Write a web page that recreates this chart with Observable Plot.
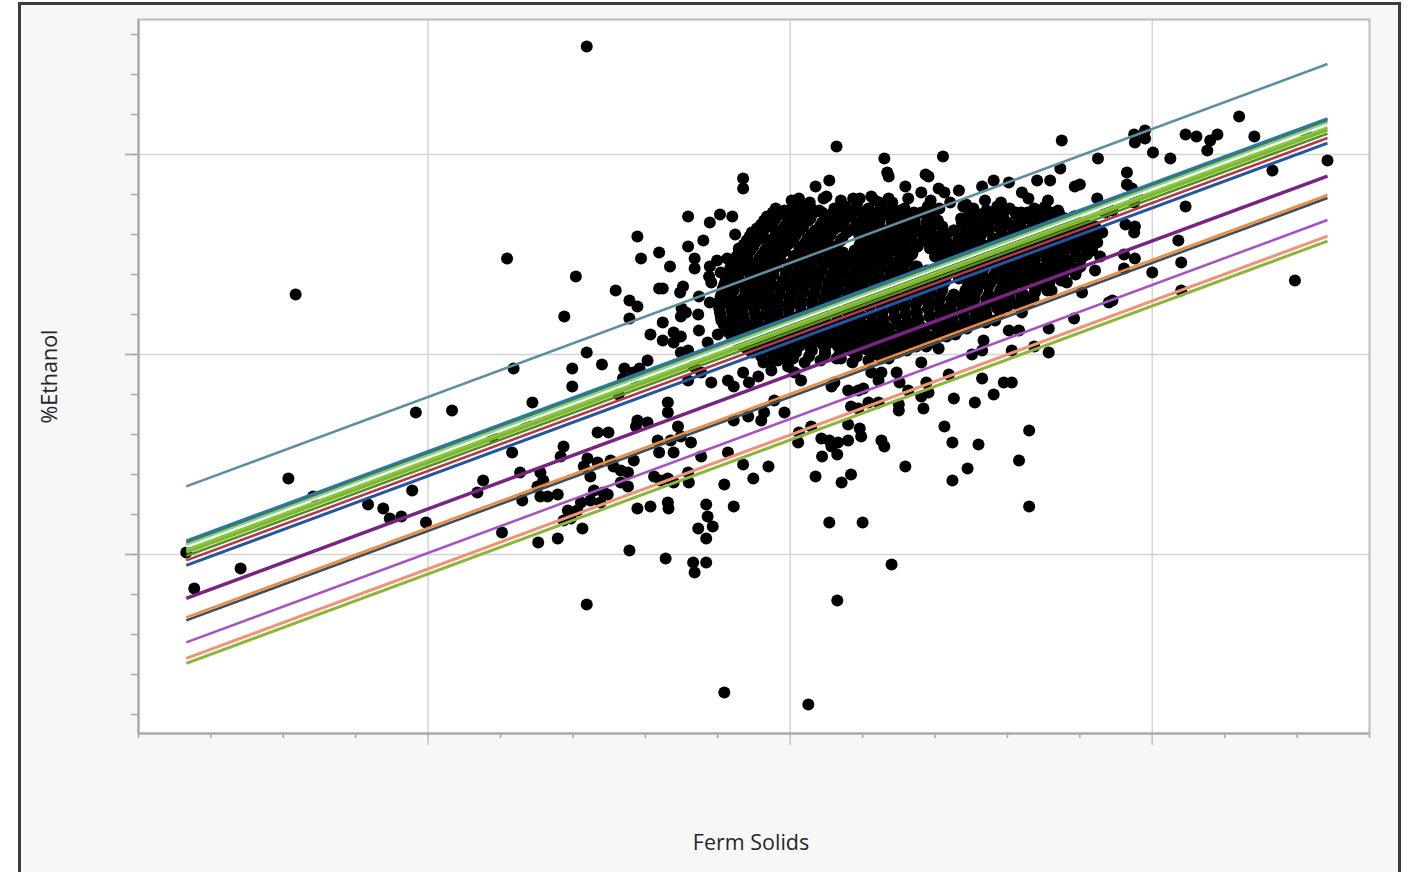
<!DOCTYPE html>
<html>
<head>
<meta charset="utf-8">
<script src="https://cdn.jsdelivr.net/npm/d3@7"></script>
<script src="https://cdn.jsdelivr.net/npm/@observablehq/plot@0.6"></script>
<style>
  html, body { margin: 0; padding: 0; background: #ffffff; overflow: hidden; width: 1410px; height: 872px; }
  #panel { position: absolute; left: 18px; top: 2px; width: 1377px; height: 900px; background: #f7f7f7; border: 3px solid #3c3c3c; border-bottom: none; }
  #chart { position: absolute; left: 0; top: 0; }
</style>
</head>
<body>
<div id="panel"></div>
<div id="chart"></div>
<script>
// Scale extents and tick positions (ticks are drawn without labels)
const solidsDomain = [6, 23];
const ethanolDomain = [13.105, 16.675];
const solidsMajorTicks = [10, 15, 20];
const solidsMinorTicks = [6, 7, 8, 9, 10, 11, 12, 13, 14, 15, 16, 17, 18, 19, 20, 21, 22, 23];
const ethanolMajorTicks = [14, 15, 16];
const ethanolMinorTicks = [13.2, 13.4, 13.6, 13.8, 14, 14.2, 14.4, 14.6, 14.8, 15, 15.2, 15.4, 15.6, 15.8, 16, 16.2, 16.4, 16.6];

// Samples [Ferm Solids, %Ethanol] away from the densest part of the cloud
const outerSamples = [
  [6.66,14.01],[6.77,13.83],[7.41,13.93],[8.07,14.38],[8.17,15.30],[8.41,14.29],[9.17,14.25],[9.38,14.23],[9.47,14.18],[9.63,14.19],
  [9.78,14.32],[9.83,14.71],[9.97,14.16],[10.33,14.72],[10.68,14.31],[10.76,14.37],[10.89,14.59],[11.02,14.11],[11.09,15.48],[11.18,14.93],
  [11.16,14.51],[11.27,14.41],[11.30,14.27],[11.34,14.67],[11.44,14.76],[11.52,14.06],[11.55,14.41],[11.59,14.37],[11.51,14.34],[11.55,14.29],
  [11.65,14.29],[11.79,14.30],[11.79,14.08],[11.83,14.49],[11.87,14.54],[11.87,14.17],[11.88,15.19],[11.93,14.22],[11.97,14.18],[11.99,14.93],
  [11.99,14.84],[12.04,15.39],[12.06,14.22],[12.11,14.26],[12.13,14.13],[12.15,14.44],[12.19,16.54],[12.19,15.01],[12.19,13.75],[12.20,14.48],
  [12.24,14.39],[12.24,14.27],[12.29,14.32],[12.34,14.46],[12.34,14.61],[12.38,14.26],[12.40,14.95],[12.42,14.31],[12.48,14.30],[12.49,14.61],
  [12.52,14.47],[12.56,14.44],[12.59,15.32],[12.63,14.80],[12.66,14.42],[12.66,14.36],[12.69,14.88],[12.71,14.93],[12.76,14.41],[12.76,14.34],
  [12.78,15.27],[12.78,15.18],[12.78,14.02],[12.83,14.91],[12.84,14.88],[12.84,14.47],[12.87,14.64],[12.89,15.59],[12.89,15.24],[12.89,14.67],
  [12.89,14.23],[12.92,14.93],[12.94,15.48],[13.03,14.97],[13.03,14.66],[13.07,15.10],[13.07,14.24],[13.12,14.39],[13.17,14.57],[13.19,15.51],
  [13.19,15.33],[13.19,14.51],[13.21,14.37],[13.24,15.33],[13.24,15.16],[13.24,15.07],[13.28,13.98],[13.31,14.76],[13.31,14.71],[13.31,14.38],
  [13.31,14.26],[13.32,14.23],[13.34,15.44],[13.35,14.57],[13.39,15.11],[13.39,15.06],[13.39,14.51],[13.39,14.36],[13.45,14.64],[13.48,15.31],
  [13.49,15.19],[13.49,15.09],[13.49,15.01],[13.49,14.59],[13.50,15.23],[13.52,15.34],[13.56,15.21],[13.59,15.69],[13.59,15.54],[13.59,15.02],
  [13.59,14.87],[13.59,14.41],[13.60,14.36],[13.63,14.56],[13.66,13.96],[13.67,14.94],[13.68,15.48],[13.68,15.43],[13.68,13.91],[13.73,15.20],
  [13.73,14.13],[13.74,15.29],[13.74,15.12],[13.77,14.91],[13.77,14.49],[13.80,15.57],[13.84,14.25],[13.84,14.08],[13.84,13.96],[13.86,15.06],
  [13.86,14.19],[13.89,15.66],[13.89,15.26],[13.91,14.86],[13.93,14.14],[14.00,15.10],[14.03,15.70],[14.09,14.35],[14.09,13.31],[14.14,14.87],
  [14.14,14.51],[14.20,15.69],[14.22,14.84],[14.22,14.67],[14.22,14.24],[14.24,15.60],[14.29,15.53],[14.35,15.88],[14.35,15.83],[14.35,14.91],
  [14.35,14.45],[14.42,14.69],[14.43,14.86],[14.49,14.38],[14.56,14.89],[14.60,14.67],[14.63,14.96],[14.64,14.71],[14.70,14.44],[14.74,14.92],
  [14.78,14.77],[14.83,14.97],[14.92,14.71],[14.97,14.94],[15.06,14.91],[15.11,14.56],[15.12,14.61],[15.15,14.87],[15.25,13.25],[15.29,14.64],
  [15.35,15.84],[15.35,14.39],[15.43,14.58],[15.44,14.49],[15.50,15.79],[15.54,15.87],[15.54,14.57],[15.54,14.16],[15.57,14.84],[15.57,14.54],
  [15.61,14.86],[15.64,16.04],[15.65,14.50],[15.65,13.77],[15.66,14.56],[15.71,14.36],[15.80,14.82],[15.80,14.65],[15.80,14.57],[15.84,14.74],
  [15.84,14.40],[15.87,15.78],[15.94,14.82],[15.94,14.73],[15.96,15.78],[15.96,14.63],[15.98,14.59],[16.00,14.16],[16.01,14.83],[16.08,14.76],
  [16.12,15.79],[16.12,14.91],[16.22,14.87],[16.22,14.76],[16.23,15.76],[16.26,14.91],[16.26,14.57],[16.30,15.98],[16.30,14.54],[16.34,15.91],
  [16.36,15.89],[16.36,15.78],[16.40,13.95],[16.47,14.91],[16.50,14.75],[16.50,14.72],[16.51,14.86],[16.59,15.84],[16.59,14.44],[16.63,14.82],
  [16.81,15.81],[16.81,14.96],[16.81,14.79],[16.84,14.73],[16.87,15.90],[16.88,14.86],[16.91,15.89],[16.91,14.81],[17.05,15.83],[17.05,15.03],
  [17.11,15.99],[17.13,15.81],[17.13,14.64],[17.19,14.90],[17.24,14.56],[17.24,14.37],[17.26,14.78],[17.33,15.82],[17.45,14.43],[17.51,15.00],
  [17.55,14.76],[17.60,14.55],[17.65,15.84],[17.65,15.02],[17.65,14.88],[17.67,15.07],[17.81,15.87],[17.81,14.80],[17.83,15.17],[17.95,14.86],
  [18.02,15.86],[18.02,15.12],[18.06,15.02],[18.06,14.86],[18.16,15.12],[18.16,14.47],[18.20,15.81],[18.20,15.21],[18.30,14.62],[18.30,14.24],
  [18.37,15.04],[18.41,15.87],[18.57,15.13],[18.57,15.01],[18.59,15.87],[18.73,15.93],[18.75,16.07],[18.93,15.84],[19.00,15.85],[19.03,15.31],
  [19.21,15.64],[19.21,15.42],[19.24,15.78],[19.25,15.98],[19.31,15.61],[19.35,15.71],[19.40,15.26],[19.45,15.72],[19.61,15.50],[19.61,15.43],
  [19.63,15.65],[19.65,15.91],[19.65,15.85],[19.72,15.83],[19.75,16.10],[19.75,15.76],[19.75,15.61],[19.76,16.06],[19.76,15.64],[19.76,15.48],
  [19.79,15.80],[19.90,16.12],[19.90,16.08],[20.00,15.41],[20.01,16.01],[20.25,15.98],[20.36,15.57],[20.40,15.46],[20.40,15.32],[20.46,16.10],
  [20.46,15.74],[20.61,16.09],[20.76,16.02],[20.80,16.07],[20.90,16.10],[21.20,16.19],[21.41,16.09],[21.66,15.92],[21.97,15.37],[22.12,16.11],
  [22.42,15.97],
  [18.82,15.36],[18.71,15.39],[18.41,15.41],[18.52,15.34],[18.61,15.32],[18.30,15.26],[19.06,15.55],[18.75,15.49],[19.06,15.66],[18.93,15.69],
  [18.71,15.62],[19.45,15.27],[18.92,15.18],[19.28,15.49],[15.06,15.69],[15.15,15.74],[15.12,15.78],
  [14.46,15.56],[14.63,15.58],[14.83,15.61],[14.42,15.47],[14.60,15.46],[14.78,15.52],[14.39,15.42],[14.56,15.39],[14.74,15.41],[14.32,15.36],
  [14.46,15.32],[14.64,15.31],[14.83,15.34],[14.42,15.26],[14.60,15.26],[14.78,15.27],[14.32,15.21],[14.56,15.19],[14.74,15.21],[14.14,15.16],
  [14.28,15.14],[14.46,15.14],[14.70,15.15],[14.11,15.28],[14.22,15.27],[13.88,15.39],[13.91,15.36],[13.99,15.47],[13.89,15.44],[14.04,15.41],
  [14.20,15.43],[14.13,15.48]
];

// Samples [Ferm Solids, %Ethanol] in the densest part of the cloud
const coreSamples = [
  [15.02,15.77],[15.27,15.76],[15.46,15.78],[15.70,15.77],[15.92,15.75],[16.17,15.77],[16.41,15.76],[16.63,15.78],[16.94,15.77],[17.21,15.76],
  [17.43,15.75],[17.69,15.77],[17.91,15.76],[18.29,15.78],[18.56,15.77],
  [14.80,15.73],[14.98,15.72],[15.12,15.74],[15.29,15.73],[15.44,15.71],[15.61,15.73],[15.76,15.74],[15.94,15.72],[16.08,15.73],[16.26,15.74],
  [16.40,15.72],[16.58,15.73],[16.71,15.71],[16.90,15.74],[17.06,15.73],[17.39,15.74],[17.53,15.73],[17.71,15.72],[17.86,15.74],[18.03,15.73],
  [18.19,15.71],[18.37,15.73],[18.52,15.74],[18.70,15.72],
  [14.68,15.69],[14.85,15.70],[15.00,15.68],[15.18,15.69],[15.33,15.71],[15.51,15.68],[15.66,15.70],[15.83,15.69],[15.98,15.67],[16.15,15.69],
  [16.31,15.70],[16.48,15.68],[16.63,15.69],[16.81,15.71],[16.96,15.68],[17.46,15.69],[17.61,15.70],[17.78,15.68],[17.94,15.69],[18.11,15.71],
  [18.27,15.68],[18.44,15.70],[18.60,15.69],[18.77,15.67],[18.92,15.69],
  [14.60,15.65],[14.76,15.66],[14.92,15.64],[15.09,15.65],[15.25,15.67],[15.41,15.64],[15.58,15.65],[15.74,15.66],[15.90,15.64],[16.06,15.65],
  [16.23,15.66],[16.39,15.63],[16.55,15.65],[16.72,15.66],[16.88,15.64],[17.04,15.65],[17.37,15.66],[17.53,15.64],[17.69,15.65],[17.86,15.67],
  [18.02,15.65],[18.18,15.64],[18.35,15.66],[18.51,15.65],[18.67,15.63],[18.84,15.65],[19.00,15.66],[19.14,15.64],
  [14.47,15.61],[14.63,15.62],[14.80,15.60],[14.96,15.61],[15.13,15.62],[15.29,15.60],[15.46,15.61],[15.62,15.63],[15.78,15.61],[15.95,15.60],
  [16.11,15.62],[16.28,15.61],[16.44,15.59],[16.60,15.61],[16.77,15.62],[16.93,15.60],[17.10,15.61],[17.26,15.62],[17.42,15.60],[17.59,15.61],
  [17.75,15.63],[17.92,15.61],[18.08,15.60],[18.24,15.62],[18.41,15.61],[18.57,15.59],[18.74,15.61],[18.90,15.62],[19.06,15.60],[19.22,15.61],
  [14.40,15.57],[14.56,15.58],[14.72,15.56],[14.88,15.57],[15.05,15.58],[15.21,15.56],[15.37,15.57],[15.54,15.59],[15.70,15.57],[16.03,15.56],
  [16.19,15.57],[16.35,15.58],[16.52,15.56],[16.68,15.57],[16.84,15.59],[17.01,15.57],[17.17,15.56],[17.33,15.58],[17.50,15.57],[17.66,15.55],
  [17.82,15.57],[17.99,15.58],[18.15,15.56],[18.31,15.57],[18.48,15.59],[18.64,15.57],[18.80,15.56],[18.97,15.57],[19.13,15.58],[19.24,15.56],
  [14.33,15.53],[14.49,15.54],[14.65,15.52],[14.81,15.53],[14.97,15.55],[15.13,15.53],[15.30,15.52],[15.46,15.53],[15.62,15.54],[15.95,15.52],
  [16.11,15.53],[16.27,15.54],[16.44,15.52],[16.60,15.53],[16.76,15.55],[16.93,15.53],[17.09,15.52],[17.25,15.53],[17.42,15.54],[17.58,15.52],
  [17.74,15.53],[17.90,15.55],[18.07,15.53],[18.23,15.52],[18.39,15.53],[18.56,15.54],[18.72,15.52],[18.88,15.53],[19.05,15.54],[19.17,15.52],
  [14.26,15.49],[14.41,15.50],[14.57,15.48],[14.73,15.49],[14.89,15.51],[15.05,15.49],[15.22,15.48],[15.38,15.49],[15.54,15.50],[15.70,15.48],
  [15.87,15.49],[16.03,15.51],[16.19,15.49],[16.35,15.48],[16.52,15.49],[16.68,15.50],[17.00,15.49],[17.17,15.48],[17.33,15.50],[17.49,15.49],
  [17.65,15.47],[17.82,15.49],[17.98,15.50],[18.14,15.48],[18.30,15.49],[18.47,15.51],[18.63,15.49],[18.79,15.48],[18.95,15.49],[19.10,15.50],
  [14.19,15.45],[14.34,15.46],[14.50,15.44],[14.66,15.45],[14.82,15.47],[14.98,15.45],[15.14,15.44],[15.30,15.45],[15.46,15.46],[15.62,15.44],
  [15.78,15.45],[15.94,15.47],[16.10,15.45],[16.27,15.44],[16.43,15.45],[16.59,15.46],[16.75,15.44],[17.07,15.45],[17.23,15.46],[17.40,15.44],
  [17.56,15.45],[17.72,15.47],[17.88,15.45],[18.04,15.44],[18.20,15.45],[18.37,15.46],[18.53,15.44],[18.69,15.45],[18.85,15.46],[19.01,15.44],
  [14.15,15.41],[14.30,15.42],[14.46,15.40],[14.62,15.41],[14.78,15.43],[14.94,15.41],[15.10,15.40],[15.26,15.41],[15.42,15.42],[15.58,15.40],
  [15.74,15.41],[15.90,15.43],[16.06,15.41],[16.22,15.40],[16.38,15.41],[16.54,15.42],[16.70,15.40],[16.86,15.41],[17.02,15.43],[17.18,15.41],
  [17.34,15.40],[17.50,15.41],[17.66,15.42],[17.82,15.40],[17.98,15.41],[18.14,15.43],[18.30,15.41],[18.46,15.40],[18.62,15.41],[18.78,15.42],
  [18.94,15.40],
  [14.11,15.37],[14.27,15.38],[14.42,15.36],[14.58,15.37],[14.74,15.39],[14.90,15.37],[15.06,15.36],[15.22,15.37],[15.38,15.38],[15.54,15.36],
  [15.70,15.37],[15.86,15.39],[16.02,15.37],[16.18,15.36],[16.34,15.37],[16.50,15.38],[16.66,15.36],[16.82,15.37],[16.98,15.39],[17.14,15.37],
  [17.46,15.36],[17.62,15.37],[17.78,15.38],[17.94,15.36],[18.10,15.37],[18.26,15.39],[18.42,15.37],[18.58,15.36],[18.74,15.37],
  [14.07,15.33],[14.22,15.34],[14.38,15.32],[14.54,15.33],[14.70,15.35],[14.86,15.33],[15.02,15.32],[15.18,15.33],[15.34,15.34],[15.50,15.32],
  [15.66,15.33],[15.82,15.35],[15.98,15.33],[16.14,15.32],[16.30,15.33],[16.46,15.34],[16.62,15.32],[16.78,15.33],[16.94,15.35],[17.10,15.33],
  [17.42,15.32],[17.58,15.33],[17.74,15.34],[17.90,15.32],[18.06,15.33],[18.22,15.35],[18.38,15.33],[18.55,15.32],
  [14.04,15.29],[14.19,15.30],[14.35,15.28],[14.51,15.29],[14.67,15.31],[14.83,15.29],[14.99,15.28],[15.15,15.29],[15.31,15.30],[15.47,15.28],
  [15.63,15.29],[15.79,15.31],[15.95,15.29],[16.11,15.28],[16.27,15.29],[16.43,15.30],[16.59,15.28],[16.75,15.29],[16.91,15.31],[17.07,15.29],
  [17.23,15.28],[17.39,15.29],[17.55,15.30],[17.71,15.28],[17.87,15.29],[18.03,15.31],[18.19,15.29],[18.36,15.28],
  [14.02,15.25],[14.17,15.26],[14.33,15.24],[14.49,15.25],[14.65,15.27],[14.81,15.25],[14.97,15.24],[15.13,15.25],[15.29,15.26],[15.45,15.24],
  [15.61,15.25],[15.77,15.27],[15.93,15.25],[16.09,15.24],[16.25,15.25],[16.41,15.26],[16.57,15.24],[16.73,15.25],[16.89,15.27],[17.05,15.25],
  [17.21,15.24],[17.37,15.25],[17.53,15.26],[17.69,15.24],[17.85,15.25],[18.01,15.27],[18.13,15.25],
  [14.03,15.21],[14.19,15.22],[14.35,15.20],[14.51,15.21],[14.67,15.23],[14.83,15.21],[14.99,15.20],[15.15,15.21],[15.31,15.22],[15.47,15.20],
  [15.63,15.21],[15.79,15.23],[15.95,15.21],[16.11,15.20],[16.27,15.21],[16.43,15.22],[16.59,15.20],[16.75,15.21],[16.91,15.23],[17.07,15.21],
  [17.23,15.20],[17.39,15.21],[17.55,15.22],[17.71,15.20],[17.90,15.21],
  [14.05,15.17],[14.21,15.18],[14.37,15.16],[14.53,15.17],[14.69,15.19],[14.85,15.17],[15.01,15.16],[15.17,15.17],[15.33,15.18],[15.49,15.16],
  [15.65,15.17],[15.81,15.19],[15.97,15.17],[16.13,15.16],[16.29,15.17],[16.45,15.18],[16.61,15.16],[16.77,15.17],[16.93,15.19],[17.09,15.17],
  [17.25,15.16],[17.41,15.17],[17.57,15.18],[17.70,15.16],
  [14.12,15.13],[14.28,15.14],[14.44,15.12],[14.60,15.13],[14.76,15.15],[14.92,15.13],[15.08,15.12],[15.24,15.13],[15.40,15.14],[15.56,15.12],
  [15.72,15.13],[15.88,15.15],[16.04,15.13],[16.20,15.12],[16.36,15.13],[16.52,15.14],[16.68,15.12],[16.84,15.13],[17.00,15.15],[17.16,15.13],
  [17.32,15.12],[17.44,15.13],
  [14.19,15.09],[14.35,15.10],[14.51,15.08],[14.67,15.09],[14.83,15.11],[14.99,15.09],[15.15,15.08],[15.31,15.09],[15.47,15.10],[15.63,15.08],
  [15.79,15.09],[15.95,15.11],[16.11,15.09],[16.27,15.08],[16.43,15.09],[16.59,15.10],[16.75,15.08],[16.91,15.09],[17.07,15.11],[17.16,15.09],
  [14.33,15.05],[14.49,15.06],[14.65,15.04],[14.81,15.05],[14.97,15.07],[15.13,15.05],[15.29,15.04],[15.45,15.05],[15.61,15.06],[15.77,15.04],
  [15.93,15.05],[16.09,15.07],[16.25,15.05],[16.41,15.04],[16.57,15.05],[16.73,15.06],[16.88,15.04],
  [14.47,15.01],[14.67,15.02],[14.88,15.00],[15.08,15.01],[15.28,15.03],[15.48,15.01],[15.68,15.00],[15.88,15.01],[16.08,15.02],[16.28,15.00],
  [16.48,15.01],[16.61,15.02],
  [14.75,14.97],[14.97,14.98],[15.20,14.96],[15.42,14.97],[15.64,14.98],[15.86,14.96],[16.08,14.97],[16.26,14.98],
  [14.76,15.71],[14.92,15.72],[15.08,15.70],[15.24,15.71],[15.40,15.72],[15.56,15.70],[15.72,15.71],[15.88,15.72],[16.04,15.70],[16.20,15.71],
  [16.36,15.71],[16.52,15.72],[16.68,15.70],[16.84,15.71],[17.00,15.72],[17.48,15.71],[17.64,15.70],[17.80,15.71],[17.96,15.72],[18.12,15.70],
  [18.28,15.71],[18.44,15.72],[18.60,15.71],[18.72,15.70],
  [14.64,15.67],[14.80,15.68],[14.96,15.66],[15.12,15.67],[15.28,15.68],[15.44,15.66],[15.60,15.67],[15.76,15.68],[15.92,15.66],[16.08,15.67],
  [16.24,15.68],[16.40,15.66],[16.56,15.67],[16.72,15.68],[16.88,15.66],[17.04,15.67],[17.36,15.68],[17.52,15.66],[17.68,15.67],[17.84,15.68],
  [18.00,15.66],[18.16,15.67],[18.32,15.68],[18.48,15.66],[18.64,15.67],[18.80,15.68],[18.96,15.66],
  [14.54,15.63],[14.70,15.64],[14.86,15.62],[15.02,15.63],[15.18,15.64],[15.34,15.62],[15.50,15.63],[15.66,15.64],[15.82,15.62],[15.98,15.63],
  [16.14,15.64],[16.30,15.62],[16.46,15.63],[16.62,15.64],[16.78,15.62],[16.94,15.63],[17.10,15.64],[17.26,15.62],[17.42,15.63],[17.58,15.64],
  [17.74,15.62],[17.90,15.63],[18.06,15.64],[18.22,15.62],[18.38,15.63],[18.54,15.64],[18.70,15.62],[18.86,15.63],[19.02,15.64],[19.14,15.62],
  [14.44,15.59],[14.60,15.60],[14.76,15.58],[14.92,15.59],[15.08,15.60],[15.24,15.58],[15.40,15.59],[15.56,15.60],[15.72,15.58],[16.04,15.59],
  [16.20,15.60],[16.36,15.58],[16.52,15.59],[16.68,15.60],[16.84,15.58],[17.00,15.59],[17.16,15.60],[17.32,15.58],[17.48,15.59],[17.64,15.60],
  [17.80,15.58],[17.96,15.59],[18.12,15.60],[18.28,15.58],[18.44,15.59],[18.60,15.60],[18.76,15.58],[18.92,15.59],[19.08,15.60],[19.22,15.58],
  [14.36,15.55],[14.52,15.56],[14.68,15.54],[14.84,15.55],[15.00,15.56],[15.16,15.54],[15.32,15.55],[15.48,15.56],[15.64,15.54],[15.96,15.55],
  [16.12,15.56],[16.28,15.54],[16.44,15.55],[16.60,15.56],[16.76,15.54],[16.92,15.55],[17.08,15.56],[17.24,15.54],[17.40,15.55],[17.56,15.56],
  [17.72,15.54],[17.88,15.55],[18.04,15.56],[18.20,15.54],[18.36,15.55],[18.52,15.56],[18.68,15.54],[18.84,15.55],[19.00,15.56],[19.16,15.54],
  [14.29,15.51],[14.45,15.52],[14.61,15.50],[14.77,15.51],[14.93,15.52],[15.09,15.50],[15.25,15.51],[15.41,15.52],[15.57,15.50],[15.73,15.51],
  [15.89,15.52],[16.05,15.50],[16.21,15.51],[16.37,15.52],[16.53,15.50],[16.69,15.51],[17.01,15.52],[17.17,15.50],[17.33,15.51],[17.49,15.52],
  [17.65,15.50],[17.81,15.51],[17.97,15.52],[18.13,15.50],[18.29,15.51],[18.45,15.52],[18.61,15.50],[18.77,15.51],[18.93,15.52],[19.09,15.50],
  [14.22,15.47],[14.38,15.48],[14.54,15.46],[14.70,15.47],[14.86,15.48],[15.02,15.46],[15.18,15.47],[15.34,15.48],[15.50,15.46],[15.66,15.47],
  [15.82,15.48],[15.98,15.46],[16.14,15.47],[16.30,15.48],[16.46,15.46],[16.62,15.47],[17.10,15.48],[17.26,15.46],[17.42,15.47],[17.58,15.48],
  [17.74,15.46],[17.90,15.47],[18.06,15.48],[18.22,15.46],[18.38,15.47],[18.54,15.48],[18.70,15.46],[18.86,15.47],[19.02,15.48],
  [14.17,15.43],[14.33,15.44],[14.49,15.42],[14.65,15.43],[14.81,15.44],[14.97,15.42],[15.13,15.43],[15.29,15.44],[15.45,15.42],[15.61,15.43],
  [15.77,15.44],[15.93,15.42],[16.09,15.43],[16.25,15.44],[16.41,15.42],[16.57,15.43],[16.73,15.44],[16.89,15.42],[17.05,15.43],[17.21,15.44],
  [17.37,15.42],[17.53,15.43],[17.69,15.44],[17.85,15.42],[18.01,15.43],[18.17,15.44],[18.33,15.42],[18.49,15.43],[18.65,15.44],[18.81,15.42],
  [18.97,15.43],
  [14.13,15.39],[14.29,15.40],[14.45,15.38],[14.61,15.39],[14.77,15.40],[14.93,15.38],[15.09,15.39],[15.25,15.40],[15.41,15.38],[15.57,15.39],
  [15.73,15.40],[15.89,15.38],[16.05,15.39],[16.21,15.40],[16.37,15.38],[16.53,15.39],[16.69,15.40],[16.85,15.38],[17.01,15.39],[17.17,15.40],
  [17.33,15.38],[17.49,15.39],[17.65,15.40],[17.81,15.38],[17.97,15.39],[18.13,15.40],[18.29,15.38],[18.45,15.39],[18.61,15.40],[18.77,15.38],
  [14.09,15.35],[14.25,15.36],[14.41,15.34],[14.57,15.35],[14.73,15.36],[14.89,15.34],[15.05,15.35],[15.21,15.36],[15.37,15.34],[15.53,15.35],
  [15.69,15.36],[15.85,15.34],[16.01,15.35],[16.17,15.36],[16.33,15.34],[16.49,15.35],[16.65,15.36],[16.81,15.34],[16.97,15.35],[17.13,15.36],
  [17.45,15.34],[17.61,15.35],[17.77,15.36],[17.93,15.34],[18.09,15.35],[18.25,15.36],[18.41,15.34],[18.57,15.35],
  [14.06,15.31],[14.22,15.32],[14.38,15.30],[14.54,15.31],[14.70,15.32],[14.86,15.30],[15.02,15.31],[15.18,15.32],[15.34,15.30],[15.50,15.31],
  [15.66,15.32],[15.82,15.30],[15.98,15.31],[16.14,15.32],[16.30,15.30],[16.46,15.31],[16.62,15.32],[16.78,15.30],[16.94,15.31],[17.10,15.32],
  [17.26,15.30],[17.42,15.31],[17.58,15.32],[17.74,15.30],[17.90,15.31],[18.06,15.32],[18.22,15.30],[18.38,15.31],
  [14.03,15.27],[14.19,15.28],[14.35,15.26],[14.51,15.27],[14.67,15.28],[14.83,15.26],[14.99,15.27],[15.15,15.28],[15.31,15.26],[15.47,15.27],
  [15.63,15.28],[15.79,15.26],[15.95,15.27],[16.11,15.28],[16.27,15.26],[16.43,15.27],[16.59,15.28],[16.75,15.26],[16.91,15.27],[17.07,15.28],
  [17.23,15.26],[17.39,15.27],[17.55,15.28],[17.71,15.26],[17.87,15.27],[18.03,15.28],[18.19,15.26],
  [14.02,15.23],[14.18,15.24],[14.34,15.22],[14.50,15.23],[14.66,15.24],[14.82,15.22],[14.98,15.23],[15.14,15.24],[15.30,15.22],[15.46,15.23],
  [15.62,15.24],[15.78,15.22],[15.94,15.23],[16.10,15.24],[16.26,15.22],[16.42,15.23],[16.58,15.24],[16.74,15.22],[16.90,15.23],[17.06,15.24],
  [17.22,15.22],[17.38,15.23],[17.54,15.24],[17.70,15.22],[17.86,15.23],[18.00,15.24],
  [14.04,15.19],[14.20,15.20],[14.36,15.18],[14.52,15.19],[14.68,15.20],[14.84,15.18],[15.00,15.19],[15.16,15.20],[15.32,15.18],[15.48,15.19],
  [15.64,15.20],[15.80,15.18],[15.96,15.19],[16.12,15.20],[16.28,15.18],[16.44,15.19],[16.60,15.20],[16.76,15.18],[16.92,15.19],[17.08,15.20],
  [17.24,15.18],[17.40,15.19],[17.56,15.20],[17.72,15.18],
  [14.08,15.15],[14.24,15.16],[14.40,15.14],[14.56,15.15],[14.72,15.16],[14.88,15.14],[15.04,15.15],[15.20,15.16],[15.36,15.14],[15.52,15.15],
  [15.68,15.16],[15.84,15.14],[16.00,15.15],[16.16,15.16],[16.32,15.14],[16.48,15.15],[16.64,15.16],[16.80,15.14],[16.96,15.15],[17.12,15.16],
  [17.28,15.14],[17.44,15.15],[17.55,15.16],
  [14.15,15.11],[14.31,15.12],[14.47,15.10],[14.63,15.11],[14.79,15.12],[14.95,15.10],[15.11,15.11],[15.27,15.12],[15.43,15.10],[15.59,15.11],
  [15.75,15.12],[15.91,15.10],[16.07,15.11],[16.23,15.12],[16.39,15.10],[16.55,15.11],[16.71,15.12],[16.87,15.10],[17.03,15.11],[17.19,15.12],
  [17.28,15.10],
  [14.26,15.07],[14.42,15.08],[14.58,15.06],[14.74,15.07],[14.90,15.08],[15.06,15.06],[15.22,15.07],[15.38,15.08],[15.54,15.06],[15.70,15.07],
  [15.86,15.08],[16.02,15.06],[16.18,15.07],[16.34,15.08],[16.50,15.06],[16.66,15.07],[16.82,15.08],[16.98,15.06],
  [14.40,15.03],[14.58,15.04],[14.76,15.02],[14.94,15.03],[15.12,15.04],[15.30,15.02],[15.48,15.03],[15.66,15.04],[15.84,15.02],[16.02,15.03],
  [16.20,15.04],[16.38,15.02],[16.56,15.03],[16.74,15.04],
  [14.60,14.99],[14.82,15.00],[15.04,14.98],[15.26,14.99],[15.48,15.00],[15.70,14.98],[15.92,14.99],[16.14,15.00],[16.36,14.98]
];

const samples = outerSamples.concat(coreSamples);

// Fitted lines: one intercept per group, shared slope
const fitSlope = 0.134;
const fitIntercepts = [13.448, 13.175, 13.165, 13.155, 13.145, 13.13, 13.118, 13.10, 13.078, 13.053, 12.888, 12.793, 12.778, 12.668, 12.588, 12.563];
const fitColors = ["#5d8fa1", "#1f77c6", "#4e7a2a", "#7fd0a6", "#f6fbef", "#8cc63f", "#7cb82f", "#5b8c24", "#b2384a", "#2355a0", "#7a2482", "#f08a3c", "#3e4e5a", "#a553c2", "#ef9377", "#8cb53a"];
const fitWidths = [2.5, 3, 2.5, 2.5, 2, 3, 3, 2.5, 2.5, 3, 3.5, 2.5, 2.5, 2.5, 3, 3];

const [fitStart, fitEnd] = d3.extent(samples, d => d[0]);

const tickStroke = "#a6a6a6";
const labelFont = "'Open Sans', 'Noto Sans', sans-serif";

const chart = Plot.plot({
  width: 1410,
  height: 872,
  marginLeft: 138,
  marginRight: 41,
  marginTop: 19,
  marginBottom: 139,
  style: {background: "transparent", overflow: "visible", fontFamily: labelFont},
  x: {domain: solidsDomain},
  y: {domain: ethanolDomain},
  marks: [
    Plot.frame({fill: "white", stroke: null}),
    Plot.gridX(solidsMajorTicks, {stroke: "#d4d4d4", strokeOpacity: 1, strokeWidth: 1.5}),
    Plot.gridY(ethanolMajorTicks, {stroke: "#d4d4d4", strokeOpacity: 1, strokeWidth: 1.5}),
    Plot.axisX(solidsMinorTicks, {tickSize: 5, stroke: tickStroke, strokeWidth: 1.5, fill: "none", label: null}),
    Plot.axisX(solidsMajorTicks, {tickSize: 12, stroke: "#c4c4c4", strokeWidth: 1.5, fill: "none", label: null}),
    Plot.axisY(ethanolMinorTicks, {tickSize: 7, stroke: tickStroke, strokeWidth: 1.5, fill: "none", label: null}),
    Plot.axisY(ethanolMajorTicks, {tickSize: 13, stroke: tickStroke, strokeWidth: 1.5, fill: "none", label: null}),
    Plot.dot(samples, {x: d => d[0], y: d => d[1], r: 6, fill: "#000000", stroke: null}),
    ...fitIntercepts.map((a, i) => Plot.link([a], {
      x1: () => fitStart,
      x2: () => fitEnd,
      y1: d => d + fitSlope * fitStart,
      y2: d => d + fitSlope * fitEnd,
      stroke: fitColors[i],
      strokeWidth: fitWidths[i]
    })),
    Plot.frame({stroke: "#bcbcbc", strokeWidth: 2}),
    Plot.ruleX([solidsDomain[0]], {stroke: tickStroke, strokeWidth: 2}),
    Plot.ruleY([ethanolDomain[0]], {stroke: tickStroke, strokeWidth: 2}),
    Plot.text(["Ferm Solids"], {text: d => d, frameAnchor: "bottom", lineAnchor: "middle", dy: 110, dx: -3, fontSize: 21.5, fill: "#262626"}),
    Plot.text(["%Ethanol"], {text: d => d, frameAnchor: "left", textAnchor: "middle", lineAnchor: "middle", rotate: -90, dx: -88, fontSize: 21.5, fill: "#262626"})
  ]
});

document.getElementById("chart").appendChild(chart);
</script>
</body>
</html>
